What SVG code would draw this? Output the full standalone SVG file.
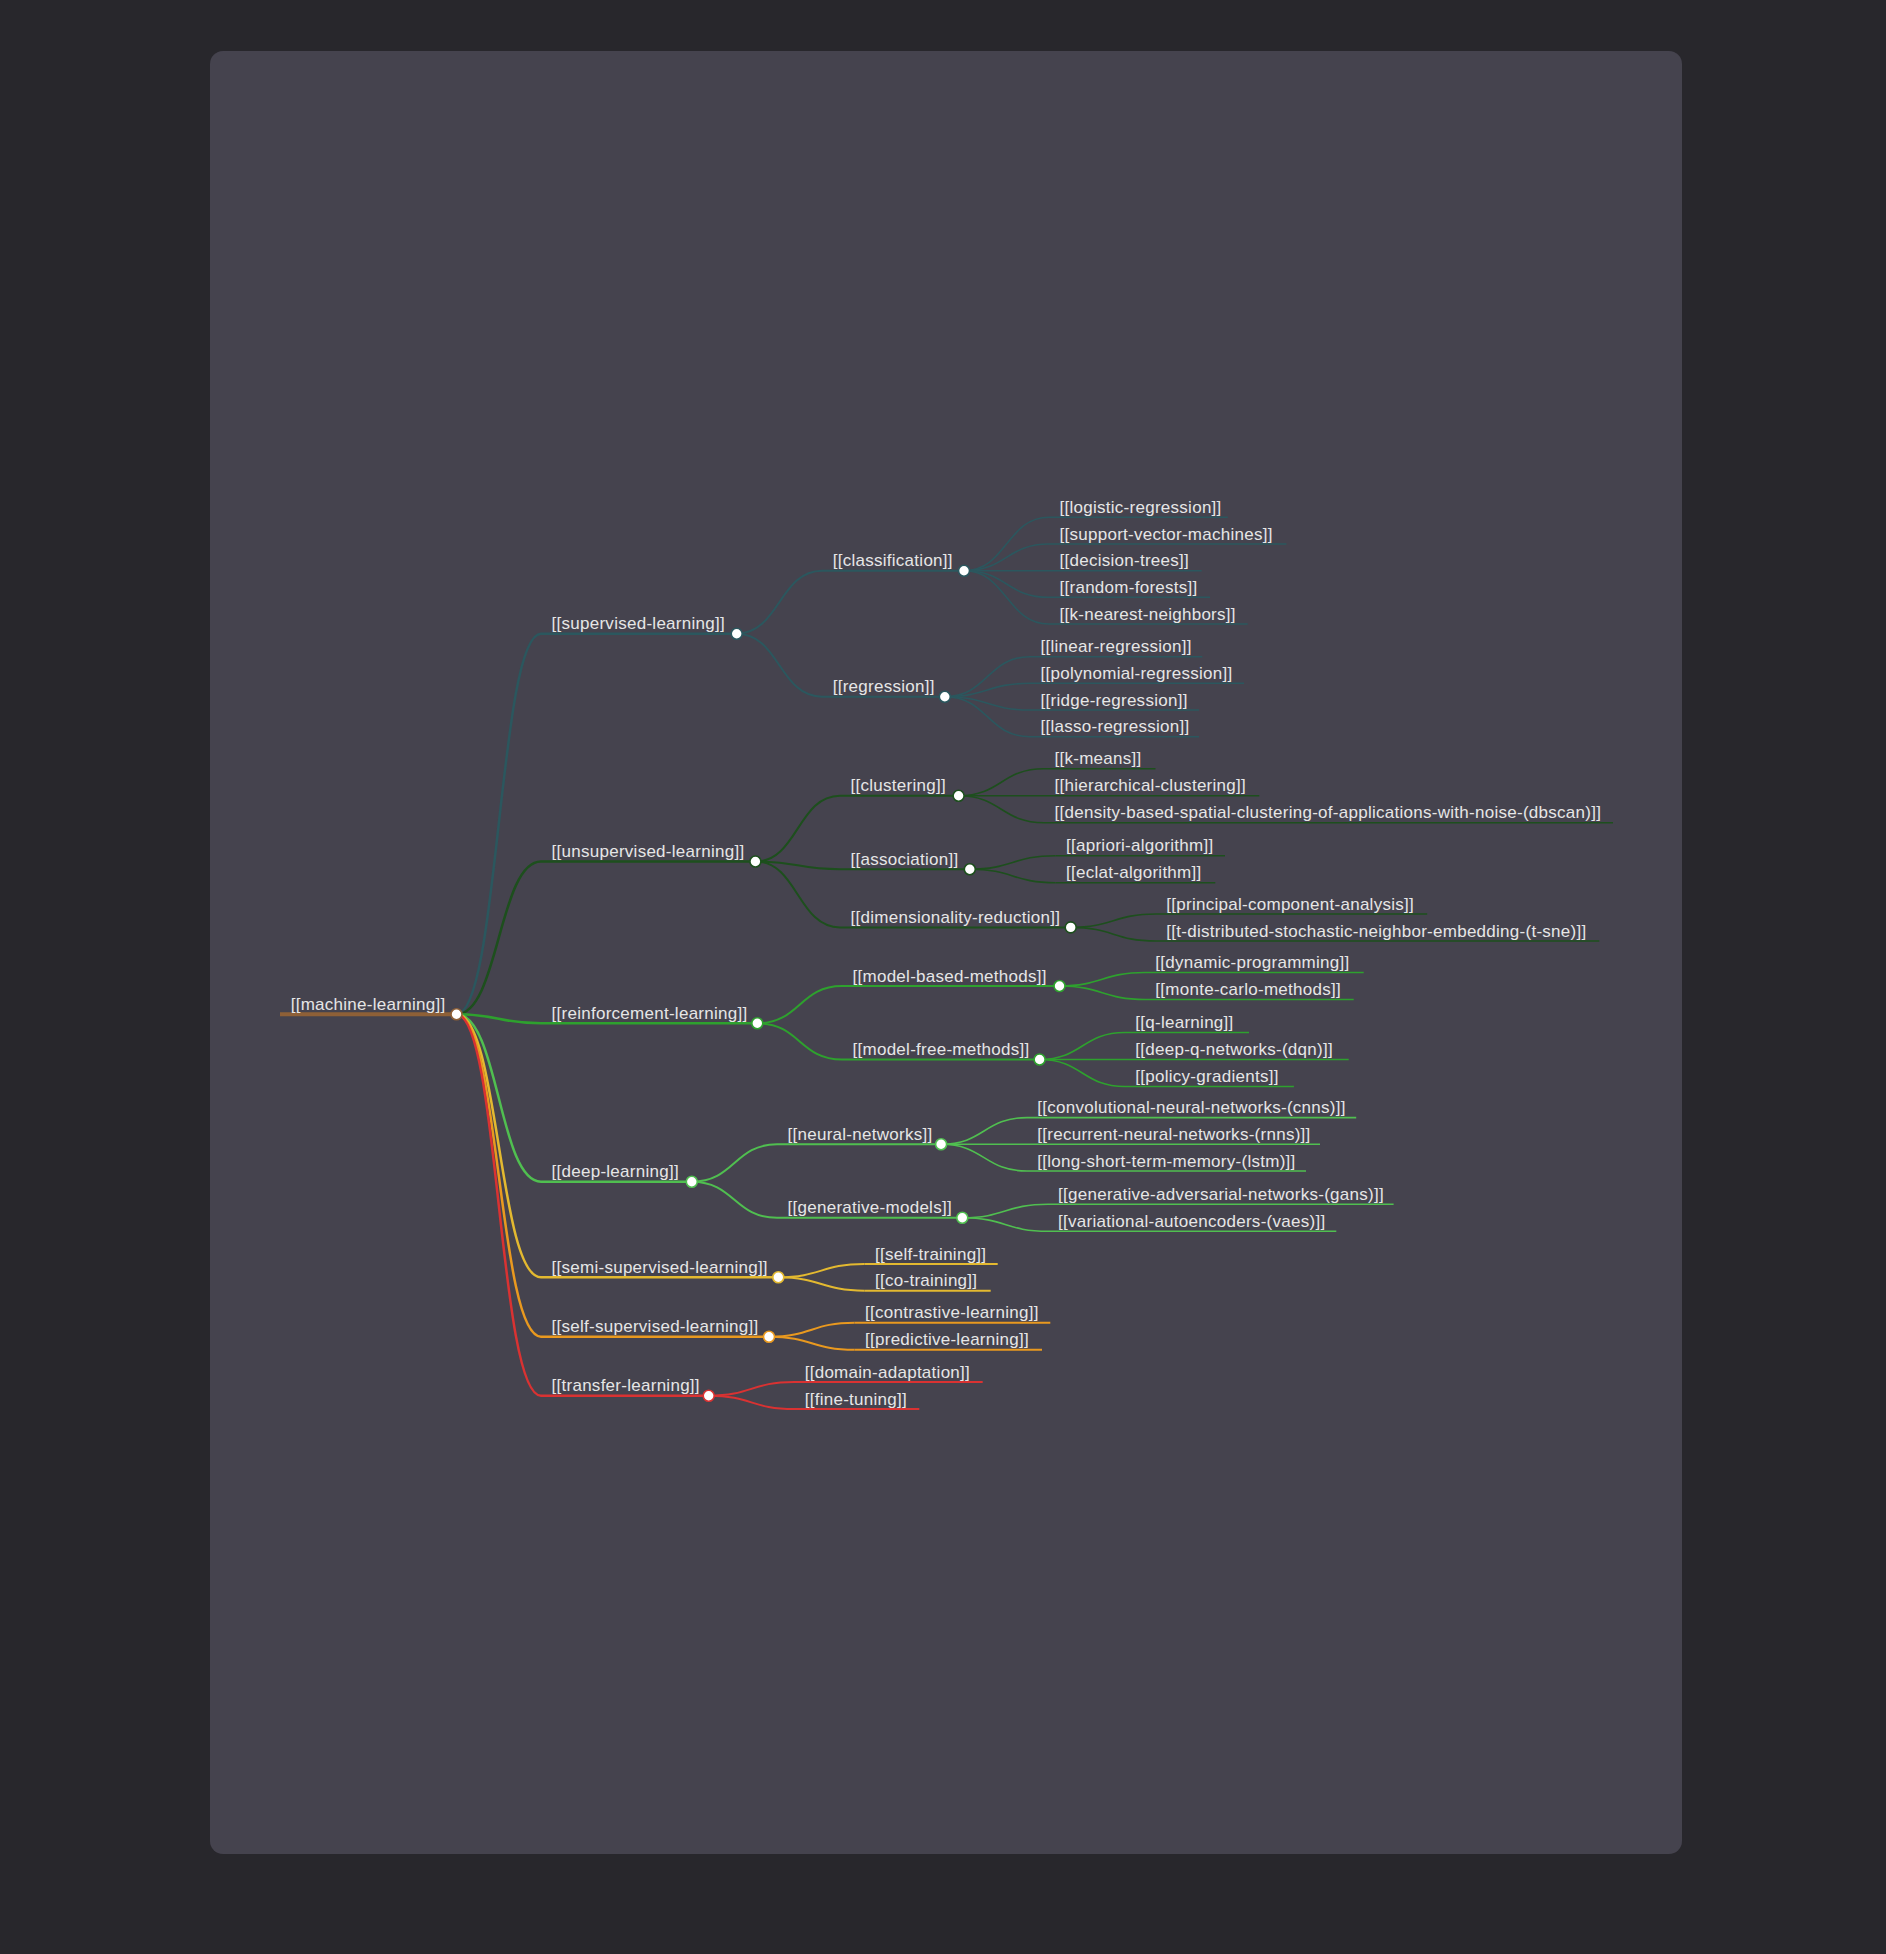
<svg xmlns="http://www.w3.org/2000/svg" width="1886" height="1954" viewBox="0 0 1886 1954">
<style>
.t{font-family:"Liberation Sans",Arial,Helvetica,sans-serif;font-size:17px;letter-spacing:0.27px;fill:#e6e6e6}
.ln{fill:none;stroke-linecap:butt}
.dot{fill:#ffffff;stroke-width:1.6}
.w0{stroke-width:4}
.w1{stroke-width:2.5}
.w2{stroke-width:2}
.w3{stroke-width:1.6}
.root{stroke:#8e6037}
.sup{stroke:#2b575e}
.uns{stroke:#1d4f1d}
.rein{stroke:#2ea12e}
.deep{stroke:#50bf50}
.semi{stroke:#e3b930}
.self{stroke:#e9991f}
.trans{stroke:#d93232}
</style>
<rect x="0" y="0" width="1886" height="1954" fill="#28272c"/>
<rect x="210" y="51" width="1472" height="1803" rx="13" fill="#45434e"/>

<g id="connectors">
<path class="ln w1 sup" d="M456.5,1014.3 C498.75,1014.3 498.75,633.7 541,633.7"/>
<path class="ln w1 uns" d="M456.5,1014.3 C498.75,1014.3 498.75,861.5 541,861.5"/>
<path class="ln w1 rein" d="M456.5,1014.3 C498.75,1014.3 498.75,1023.3 541,1023.3"/>
<path class="ln w1 deep" d="M456.5,1014.3 C498.75,1014.3 498.75,1181.7 541,1181.7"/>
<path class="ln w1 semi" d="M456.5,1014.3 C498.75,1014.3 498.75,1277.3 541,1277.3"/>
<path class="ln w1 self" d="M456.5,1014.3 C498.75,1014.3 498.75,1336.7 541,1336.7"/>
<path class="ln w1 trans" d="M456.5,1014.3 C498.75,1014.3 498.75,1395.7 541,1395.7"/>

<path class="ln w2 sup" d="M736.7,633.7 C779.35,633.7 779.35,570.7 822,570.7"/>
<path class="ln w2 sup" d="M736.7,633.7 C779.35,633.7 779.35,696.7 822,696.7"/>
<path class="ln w2 uns" d="M755.4,861.5 C797.7,861.5 797.7,795.7 840,795.7"/>
<path class="ln w2 uns" d="M755.4,861.5 C797.7,861.5 797.7,869.2 840,869.2"/>
<path class="ln w2 uns" d="M755.4,861.5 C797.7,861.5 797.7,927.4 840,927.4"/>
<path class="ln w2 rein" d="M757.3,1023.3 C799.65,1023.3 799.65,986 842,986"/>
<path class="ln w2 rein" d="M757.3,1023.3 C799.65,1023.3 799.65,1059.5 842,1059.5"/>
<path class="ln w2 deep" d="M691.8,1181.7 C734.4,1181.7 734.4,1144.3 777,1144.3"/>
<path class="ln w2 deep" d="M691.8,1181.7 C734.4,1181.7 734.4,1217.8 777,1217.8"/>
<path class="ln w2 semi" d="M778.3,1277.3 C821.3,1277.3 821.3,1264 864.3,1264"/>
<path class="ln w2 semi" d="M778.3,1277.3 C821.3,1277.3 821.3,1290.7 864.3,1290.7"/>
<path class="ln w2 self" d="M769,1336.7 C811.75,1336.7 811.75,1322.7 854.5,1322.7"/>
<path class="ln w2 self" d="M769,1336.7 C811.75,1336.7 811.75,1349.7 854.5,1349.7"/>
<path class="ln w2 trans" d="M708.7,1395.7 C751.35,1395.7 751.35,1382 794,1382"/>
<path class="ln w2 trans" d="M708.7,1395.7 C751.35,1395.7 751.35,1409 794,1409"/>

<path class="ln w3 sup" d="M964,570.7 C1006.5,570.7 1006.5,517.3 1049,517.3"/>
<path class="ln w3 sup" d="M964,570.7 C1006.5,570.7 1006.5,544 1049,544"/>
<path class="ln w3 sup" d="M964,570.7 C1006.5,570.7 1006.5,570.7 1049,570.7"/>
<path class="ln w3 sup" d="M964,570.7 C1006.5,570.7 1006.5,597.3 1049,597.3"/>
<path class="ln w3 sup" d="M964,570.7 C1006.5,570.7 1006.5,624 1049,624"/>
<path class="ln w3 sup" d="M944.8,696.7 C987.4,696.7 987.4,656.7 1030,656.7"/>
<path class="ln w3 sup" d="M944.8,696.7 C987.4,696.7 987.4,683.3 1030,683.3"/>
<path class="ln w3 sup" d="M944.8,696.7 C987.4,696.7 987.4,710 1030,710"/>
<path class="ln w3 sup" d="M944.8,696.7 C987.4,696.7 987.4,736.7 1030,736.7"/>
<path class="ln w3 uns" d="M958.6,795.7 C1001.3,795.7 1001.3,768.7 1044,768.7"/>
<path class="ln w3 uns" d="M958.6,795.7 C1001.3,795.7 1001.3,795.7 1044,795.7"/>
<path class="ln w3 uns" d="M958.6,795.7 C1001.3,795.7 1001.3,822.7 1044,822.7"/>
<path class="ln w3 uns" d="M969.8,869.2 C1012.65,869.2 1012.65,855.7 1055.5,855.7"/>
<path class="ln w3 uns" d="M969.8,869.2 C1012.65,869.2 1012.65,882.7 1055.5,882.7"/>
<path class="ln w3 uns" d="M1070.7,927.4 C1113.35,927.4 1113.35,914 1156,914"/>
<path class="ln w3 uns" d="M1070.7,927.4 C1113.35,927.4 1113.35,941 1156,941"/>
<path class="ln w3 rein" d="M1059.5,986 C1102.25,986 1102.25,972.5 1145,972.5"/>
<path class="ln w3 rein" d="M1059.5,986 C1102.25,986 1102.25,999.5 1145,999.5"/>
<path class="ln w3 rein" d="M1039.6,1059.5 C1082.3,1059.5 1082.3,1032.5 1125,1032.5"/>
<path class="ln w3 rein" d="M1039.6,1059.5 C1082.3,1059.5 1082.3,1059.5 1125,1059.5"/>
<path class="ln w3 rein" d="M1039.6,1059.5 C1082.3,1059.5 1082.3,1086.5 1125,1086.5"/>
<path class="ln w3 deep" d="M941.1,1144.3 C984.05,1144.3 984.05,1117.6 1027,1117.6"/>
<path class="ln w3 deep" d="M941.1,1144.3 C984.05,1144.3 984.05,1144.3 1027,1144.3"/>
<path class="ln w3 deep" d="M941.1,1144.3 C984.05,1144.3 984.05,1171 1027,1171"/>
<path class="ln w3 deep" d="M962.3,1217.8 C1005.15,1217.8 1005.15,1204.3 1048,1204.3"/>
<path class="ln w3 deep" d="M962.3,1217.8 C1005.15,1217.8 1005.15,1231.3 1048,1231.3"/>
</g>

<g id="n-machine-learning"><path class="ln w0 root" d="M280,1014.3 H456.5"/><text class="t" x="290.7" y="1009.8">[[machine-learning]]</text><circle class="dot root" cx="456.5" cy="1014.3" r="5.5"/></g>

<g id="n-supervised-learning"><path class="ln w1 sup" d="M541,633.7 H736.7"/><text class="t" x="551.5" y="629.2">[[supervised-learning]]</text><circle class="dot sup" cx="736.7" cy="633.7" r="5.5"/></g>
<g id="n-unsupervised-learning"><path class="ln w1 uns" d="M541,861.5 H755.4"/><text class="t" x="551.5" y="857">[[unsupervised-learning]]</text><circle class="dot uns" cx="755.4" cy="861.5" r="5.5"/></g>
<g id="n-reinforcement-learning"><path class="ln w1 rein" d="M541,1023.3 H757.3"/><text class="t" x="551.5" y="1018.8">[[reinforcement-learning]]</text><circle class="dot rein" cx="757.3" cy="1023.3" r="5.5"/></g>
<g id="n-deep-learning"><path class="ln w1 deep" d="M541,1181.7 H691.8"/><text class="t" x="551.5" y="1177.2">[[deep-learning]]</text><circle class="dot deep" cx="691.8" cy="1181.7" r="5.5"/></g>
<g id="n-semi-supervised-learning"><path class="ln w1 semi" d="M541,1277.3 H778.3"/><text class="t" x="551.5" y="1272.8">[[semi-supervised-learning]]</text><circle class="dot semi" cx="778.3" cy="1277.3" r="5.5"/></g>
<g id="n-self-supervised-learning"><path class="ln w1 self" d="M541,1336.7 H769"/><text class="t" x="551.5" y="1332.2">[[self-supervised-learning]]</text><circle class="dot self" cx="769" cy="1336.7" r="5.5"/></g>
<g id="n-transfer-learning"><path class="ln w1 trans" d="M541,1395.7 H708.7"/><text class="t" x="551.5" y="1391.2">[[transfer-learning]]</text><circle class="dot trans" cx="708.7" cy="1395.7" r="5.5"/></g>

<g id="n-classification"><path class="ln w2 sup" d="M822,570.7 H964"/><text class="t" x="832.7" y="566.2">[[classification]]</text><circle class="dot sup" cx="964" cy="570.7" r="5.5"/></g>
<g id="n-regression"><path class="ln w2 sup" d="M822,696.7 H944.8"/><text class="t" x="832.7" y="692.2">[[regression]]</text><circle class="dot sup" cx="944.8" cy="696.7" r="5.5"/></g>
<g id="n-clustering"><path class="ln w2 uns" d="M840,795.7 H958.6"/><text class="t" x="850.5" y="791.2">[[clustering]]</text><circle class="dot uns" cx="958.6" cy="795.7" r="5.5"/></g>
<g id="n-association"><path class="ln w2 uns" d="M840,869.2 H969.8"/><text class="t" x="850.5" y="864.7">[[association]]</text><circle class="dot uns" cx="969.8" cy="869.2" r="5.5"/></g>
<g id="n-dimensionality-reduction"><path class="ln w2 uns" d="M840,927.4 H1070.7"/><text class="t" x="850.5" y="922.9">[[dimensionality-reduction]]</text><circle class="dot uns" cx="1070.7" cy="927.4" r="5.5"/></g>
<g id="n-model-based-methods"><path class="ln w2 rein" d="M842,986 H1059.5"/><text class="t" x="852.5" y="981.5">[[model-based-methods]]</text><circle class="dot rein" cx="1059.5" cy="986" r="5.5"/></g>
<g id="n-model-free-methods"><path class="ln w2 rein" d="M842,1059.5 H1039.6"/><text class="t" x="852.5" y="1055">[[model-free-methods]]</text><circle class="dot rein" cx="1039.6" cy="1059.5" r="5.5"/></g>
<g id="n-neural-networks"><path class="ln w2 deep" d="M777,1144.3 H941.1"/><text class="t" x="787.5" y="1139.8">[[neural-networks]]</text><circle class="dot deep" cx="941.1" cy="1144.3" r="5.5"/></g>
<g id="n-generative-models"><path class="ln w2 deep" d="M777,1217.8 H962.3"/><text class="t" x="787.5" y="1213.3">[[generative-models]]</text><circle class="dot deep" cx="962.3" cy="1217.8" r="5.5"/></g>

<g id="n-self-training"><path class="ln w2 semi" d="M864.3,1264 H997.7"/><text class="t" x="875" y="1259.5">[[self-training]]</text></g>
<g id="n-co-training"><path class="ln w2 semi" d="M864.3,1290.7 H990.7"/><text class="t" x="875" y="1286.2">[[co-training]]</text></g>
<g id="n-contrastive-learning"><path class="ln w2 self" d="M854.5,1322.7 H1050.3"/><text class="t" x="865" y="1318.2">[[contrastive-learning]]</text></g>
<g id="n-predictive-learning"><path class="ln w2 self" d="M854.5,1349.7 H1042"/><text class="t" x="865" y="1345.2">[[predictive-learning]]</text></g>
<g id="n-domain-adaptation"><path class="ln w2 trans" d="M794,1382 H982.7"/><text class="t" x="804.7" y="1377.5">[[domain-adaptation]]</text></g>
<g id="n-fine-tuning"><path class="ln w2 trans" d="M794,1409 H919.3"/><text class="t" x="804.7" y="1404.5">[[fine-tuning]]</text></g>

<g id="n-logistic-regression"><path class="ln w3 sup" d="M1049,517.3 H1227.8"/><text class="t" x="1059.5" y="512.8">[[logistic-regression]]</text></g>
<g id="n-support-vector-machines"><path class="ln w3 sup" d="M1049,544 H1286.4"/><text class="t" x="1059.5" y="539.5">[[support-vector-machines]]</text></g>
<g id="n-decision-trees"><path class="ln w3 sup" d="M1049,570.7 H1201.7"/><text class="t" x="1059.5" y="566.2">[[decision-trees]]</text></g>
<g id="n-random-forests"><path class="ln w3 sup" d="M1049,597.3 H1210"/><text class="t" x="1059.5" y="592.8">[[random-forests]]</text></g>
<g id="n-k-nearest-neighbors"><path class="ln w3 sup" d="M1049,624 H1247.7"/><text class="t" x="1059.5" y="619.5">[[k-nearest-neighbors]]</text></g>
<g id="n-linear-regression"><path class="ln w3 sup" d="M1030,656.7 H1202.3"/><text class="t" x="1040.5" y="652.2">[[linear-regression]]</text></g>
<g id="n-polynomial-regression"><path class="ln w3 sup" d="M1030,683.3 H1244"/><text class="t" x="1040.5" y="678.8">[[polynomial-regression]]</text></g>
<g id="n-ridge-regression"><path class="ln w3 sup" d="M1030,710 H1199"/><text class="t" x="1040.5" y="705.5">[[ridge-regression]]</text></g>
<g id="n-lasso-regression"><path class="ln w3 sup" d="M1030,736.7 H1199"/><text class="t" x="1040.5" y="732.2">[[lasso-regression]]</text></g>

<g id="n-k-means"><path class="ln w3 uns" d="M1044,768.7 H1155.5"/><text class="t" x="1054.5" y="764.2">[[k-means]]</text></g>
<g id="n-hierarchical-clustering"><path class="ln w3 uns" d="M1044,795.7 H1259.3"/><text class="t" x="1054.5" y="791.2">[[hierarchical-clustering]]</text></g>
<g id="n-dbscan"><path class="ln w3 uns" d="M1044,822.7 H1613"/><text class="t" x="1054.5" y="818.2">[[density-based-spatial-clustering-of-applications-with-noise-(dbscan)]]</text></g>
<g id="n-apriori-algorithm"><path class="ln w3 uns" d="M1055.5,855.7 H1225"/><text class="t" x="1066" y="851.2">[[apriori-algorithm]]</text></g>
<g id="n-eclat-algorithm"><path class="ln w3 uns" d="M1055.5,882.7 H1215.3"/><text class="t" x="1066" y="878.2">[[eclat-algorithm]]</text></g>
<g id="n-principal-component-analysis"><path class="ln w3 uns" d="M1156,914 H1427.2"/><text class="t" x="1166.3" y="909.5">[[principal-component-analysis]]</text></g>
<g id="n-t-sne"><path class="ln w3 uns" d="M1156,941 H1599.3"/><text class="t" x="1166.3" y="936.5">[[t-distributed-stochastic-neighbor-embedding-(t-sne)]]</text></g>

<g id="n-dynamic-programming"><path class="ln w3 rein" d="M1145,972.5 H1363.7"/><text class="t" x="1155.3" y="968">[[dynamic-programming]]</text></g>
<g id="n-monte-carlo-methods"><path class="ln w3 rein" d="M1145,999.5 H1353.7"/><text class="t" x="1155.3" y="995">[[monte-carlo-methods]]</text></g>
<g id="n-q-learning"><path class="ln w3 rein" d="M1125,1032.5 H1249"/><text class="t" x="1135.3" y="1028">[[q-learning]]</text></g>
<g id="n-deep-q-networks"><path class="ln w3 rein" d="M1125,1059.5 H1348.7"/><text class="t" x="1135.3" y="1055">[[deep-q-networks-(dqn)]]</text></g>
<g id="n-policy-gradients"><path class="ln w3 rein" d="M1125,1086.5 H1293.9"/><text class="t" x="1135.3" y="1082">[[policy-gradients]]</text></g>

<g id="n-cnns"><path class="ln w3 deep" d="M1027,1117.6 H1356.2"/><text class="t" x="1037.3" y="1113.1">[[convolutional-neural-networks-(cnns)]]</text></g>
<g id="n-rnns"><path class="ln w3 deep" d="M1027,1144.3 H1320"/><text class="t" x="1037.3" y="1139.8">[[recurrent-neural-networks-(rnns)]]</text></g>
<g id="n-lstm"><path class="ln w3 deep" d="M1027,1171 H1306"/><text class="t" x="1037.3" y="1166.5">[[long-short-term-memory-(lstm)]]</text></g>
<g id="n-gans"><path class="ln w3 deep" d="M1048,1204.3 H1393.6"/><text class="t" x="1058" y="1199.8">[[generative-adversarial-networks-(gans)]]</text></g>
<g id="n-vaes"><path class="ln w3 deep" d="M1048,1231.3 H1336.3"/><text class="t" x="1058" y="1226.8">[[variational-autoencoders-(vaes)]]</text></g>
</svg>
